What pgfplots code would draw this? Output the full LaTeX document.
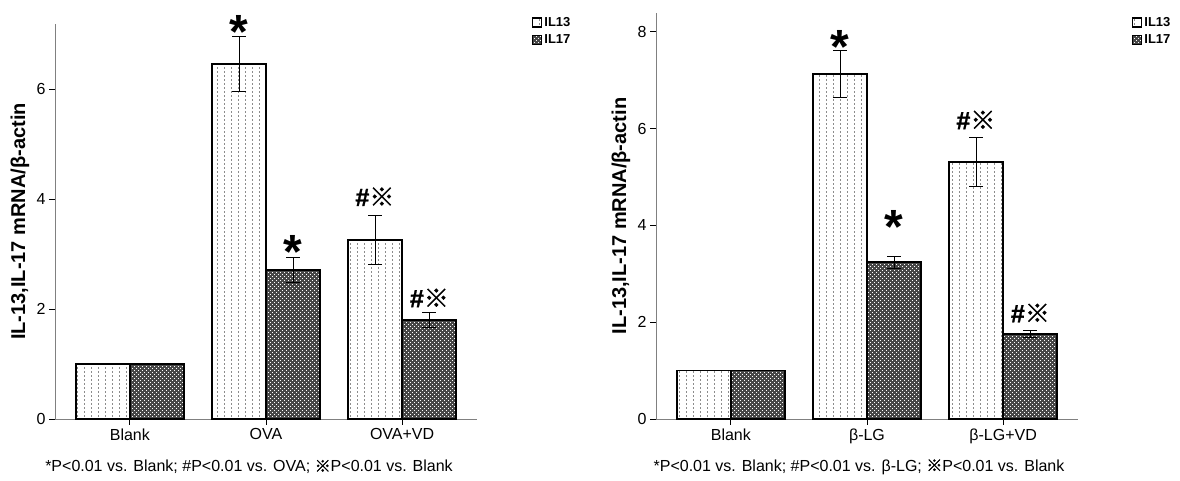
\documentclass[border=0pt]{standalone}
\usepackage{fontspec}
\setmainfont{Liberation Sans}
\newfontfamily\cjk{Noto Sans CJK SC}[FakeBold=1.6]
\newfontfamily\heavy{Liberation Sans}[FakeBold=1.2]
\usepackage{pgfplots}
\usepackage{pgfplotstable}
\pgfplotsset{compat=1.18}
\usetikzlibrary{patterns}

\pgfdeclarepatternformonly{vdots}{\pgfqpoint{-1pt}{-1pt}}{\pgfqpoint{8pt}{5pt}}{\pgfqpoint{7pt}{4pt}}{%
  \pgfpathrectangle{\pgfqpoint{0pt}{0pt}}{\pgfqpoint{1pt}{2pt}}\pgfusepath{fill}}
\pgfdeclarepatternformonly{wdots}{\pgfqpoint{-1pt}{-1pt}}{\pgfqpoint{5pt}{5pt}}{\pgfqpoint{4pt}{4pt}}{%
  \pgfpathrectangle{\pgfqpoint{0pt}{0pt}}{\pgfqpoint{1.4pt}{1.4pt}}\pgfusepath{fill}%
  \pgfpathrectangle{\pgfqpoint{2pt}{2pt}}{\pgfqpoint{1.4pt}{1.4pt}}\pgfusepath{fill}}

\pgfplotstableread{
x  a    ea    b    eb
0  1.00 0.00  1.00 0.00
1  6.45 0.50  2.71 0.22
2  3.25 0.45  1.80 0.14
}\lefttab
\pgfplotstableread{
x  a    ea    b    eb
0  1.00 0.00  1.00 0.00
1  7.13 0.48  3.24 0.12
2  5.31 0.50  1.76 0.07
}\righttab

\tikzset{
  star/.style={font=\bfseries\fontsize{48}{48}\selectfont, yshift=-9pt},
  hm/.style={font=\heavy\bfseries\fontsize{25}{25}\selectfont},
}
\pgfplotsset{
  il13/.style={draw=black, line width=1.5pt, fill=white, postaction={pattern=vdots, pattern color=black!45}},
  il17/.style={draw=black, line width=1.5pt, fill=black!72, postaction={pattern=wdots, pattern color=white}},
  base/.style={
    scale only axis, width=422pt,
    xmin=-0.55, xmax=2.55, ymin=0,
    axis lines=left, axis line style={-, draw=black!50, line width=0.8pt},
    ybar=0pt, bar width=54pt,
    xtick={0,1,2}, tick align=outside, major tick length=6pt,
    tick style={black, line width=0.8pt},
    /pgf/number format/assume math mode=true,
    tick label style={font=\fontsize{16}{16}\selectfont},
    clip=false,
    error bars/y dir=both, error bars/y explicit,
    error bars/error bar style={black, line width=1pt},
    error bars/error mark options={rotate=90, mark size=7pt, black, line width=1pt},
    legend style={draw=none, fill=none, inner sep=0pt, row sep=3pt,
      font=\bfseries\fontsize{13}{13}\selectfont, anchor=north west},
    legend cell align=left,
    legend image code/.code={\draw[##1, line width=1.2pt] (0.5pt,-4.5pt) rectangle (9.5pt,4.5pt);},
  },
}

\begin{document}
\begin{tikzpicture}[x=1pt,y=1pt]
\path (0,0) rectangle (1180,481);
% left
\begin{axis}[base, at={(55pt,62pt)}, anchor=south west, height=395pt, ymax=7.18,
  ytick={0,2,4,6}, xticklabels={Blank,OVA,OVA+VD},
  legend style={at={(rel axis cs:1,1)}, xshift=55pt, yshift=9pt}]
\addplot[il13] table[x=x, y=a, y error=ea] {\lefttab};
\addplot[il17] table[x=x, y=b, y error=eb] {\lefttab};
\legend{IL13,IL17}
\node[star] at (axis cs:0.8,7.2) {*};
\node[star] at (axis cs:1.2,3.2) {*};
\node[hm] at (axis cs:1.8,4.04) {\#{\cjk ※}};
\node[hm] at (axis cs:2.2,2.2) {\#{\cjk ※}};
\node[rotate=90, font=\bfseries\fontsize{20}{20}\selectfont] at ([xshift=-35pt]rel axis cs:0,0.5) {IL-13,IL-17 mRNA/β-actin};
\node[font=\fontsize{16}{16}\selectfont] at ([xshift=-17pt, yshift=-48pt]rel axis cs:0.5,0) {*P<0.01 vs. Blank; \#P<0.01 vs. OVA; {\cjk ※}P<0.01 vs. Blank};
\end{axis}
% right
\begin{axis}[base, at={(656pt,62pt)}, anchor=south west, height=406pt, ymax=8.39,
  ytick={0,2,4,6,8}, xticklabels={Blank,β-LG,β-LG+VD},
  legend style={at={(rel axis cs:1,1)}, xshift=54pt, yshift=-2pt}]
\addplot[il13] table[x=x, y=a, y error=ea] {\righttab};
\addplot[il17] table[x=x, y=b, y error=eb] {\righttab};
\legend{IL13,IL17}
\node[star] at (axis cs:0.8,7.87) {*};
\node[star] at (axis cs:1.2,4.15) {*};
\node[hm] at (axis cs:1.8,6.18) {\#{\cjk ※}};
\node[hm] at (axis cs:2.2,2.19) {\#{\cjk ※}};
\node[rotate=90, font=\bfseries\fontsize{20}{20}\selectfont] at ([xshift=-35pt]rel axis cs:0,0.5) {IL-13,IL-17 mRNA/β-actin};
\node[font=\fontsize{16}{16}\selectfont] at ([xshift=-8pt, yshift=-48pt]rel axis cs:0.5,0) {*P<0.01 vs. Blank; \#P<0.01 vs. β-LG; {\cjk ※}P<0.01 vs. Blank};
\end{axis}
\end{tikzpicture}
\end{document}
